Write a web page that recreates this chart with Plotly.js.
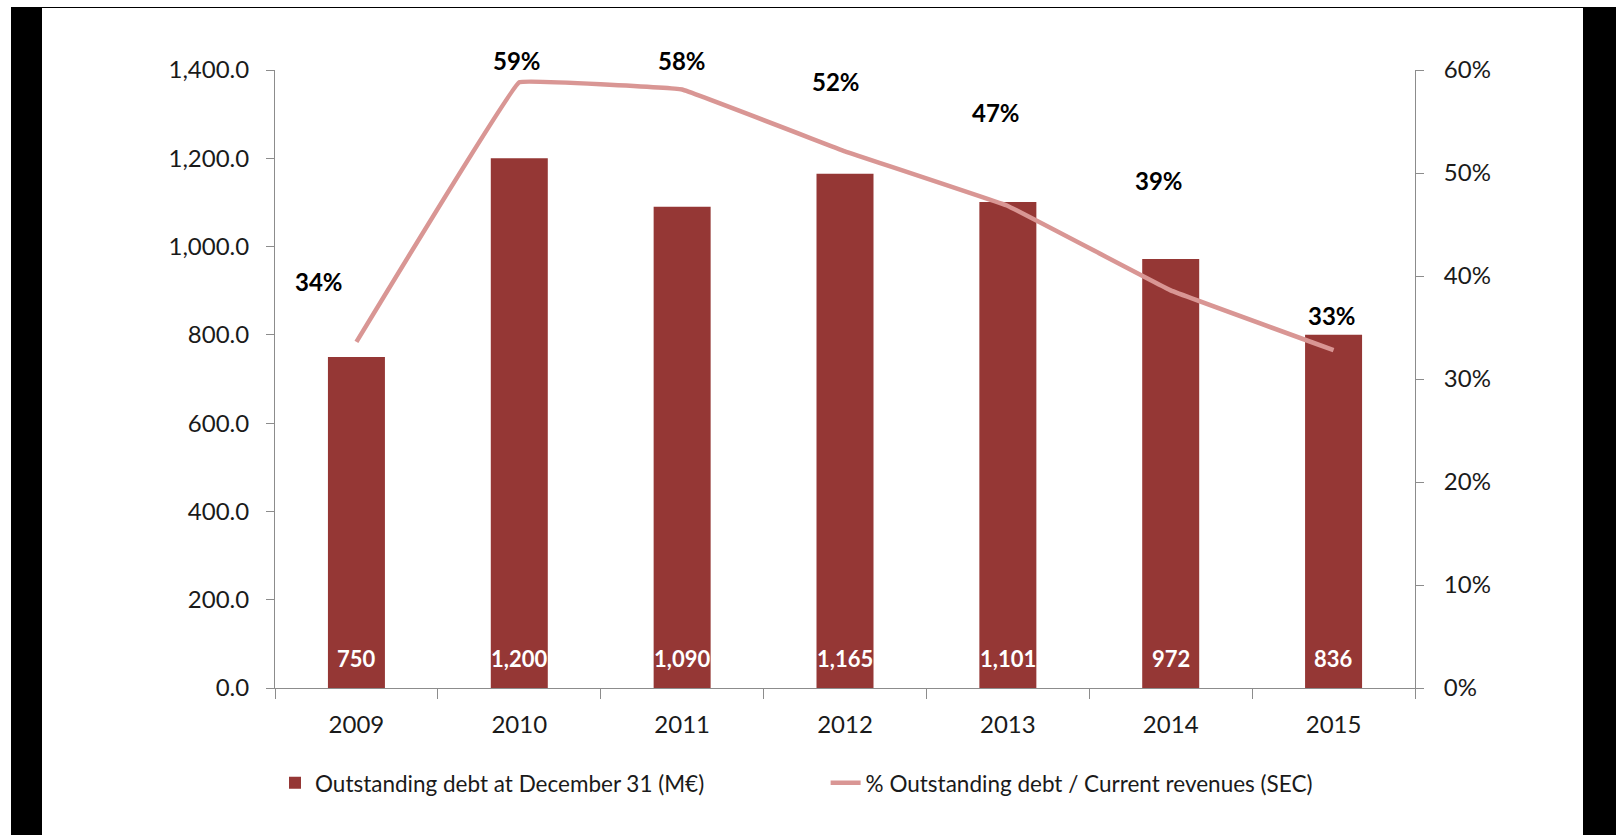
<!DOCTYPE html>
<html>
<head>
<meta charset="utf-8">
<script src="https://cdn.plot.ly/plotly-3.0.1.min.js"></script>
<style>
  html, body { margin: 0; padding: 0; background: #fff; }
  #wrap { position: relative; width: 1616px; height: 835px; overflow: hidden; }
  #chart { position: absolute; left: 0; top: 0; width: 1616px; height: 835px; }
  .frame { position: absolute; background: #000; pointer-events: none; }
</style>
</head>
<body>
<div id="wrap">
  <div id="chart"></div>
  <div class="frame" style="left:11px; top:7px; width:1605px; height:1px;"></div>
  <div class="frame" style="left:11px; top:7px; width:31px; height:828px;"></div>
  <div class="frame" style="left:1583px; top:7px; width:33px; height:828px;"></div>
</div>
<script>
// ---- data ----
const years = ["2009", "2010", "2011", "2012", "2013", "2014", "2015"];
const debtValues = [750, 1200, 1090, 1165, 1101, 972, 800];
const debtLabels = ["750", "1,200", "1,090", "1,165", "1,101", "972", "836"];
const ratioValues = [0.336, 0.588, 0.581, 0.521, 0.468, 0.386, 0.328];
const ratioLabels = ["34%", "59%", "58%", "52%", "47%", "39%", "33%"];
const barName = "Outstanding debt at December 31 (M€)";
const lineName = "% Outstanding debt / Current revenues (SEC)";

// ---- styling ----
const FONT = "Lato, 'Open Sans', sans-serif";
const barColor = "#953735";
const lineColor = "#D99694";
const axisColor = "#8c8c8c";
const textColor = "#1a1a1a";
// label nudges (pixels) for the percentage labels, in reading order
const pctNudge = [[-37, 60], [-2, 22], [0, 29], [-9, 70], [-12, 93], [-12, 110], [-2, 35]];

const traces = [
  {
    type: "bar",
    x: years,
    y: debtValues,
    name: barName,
    marker: { color: barColor },
    yaxis: "y",
    legend: "legend",
    hoverinfo: "skip"
  },
  {
    type: "scatter",
    mode: "lines",
    x: years,
    y: ratioValues,
    name: lineName,
    yaxis: "y2",
    line: { color: lineColor, width: 4.5, shape: "spline", smoothing: 0.12 },
    legend: "legend2",
    hoverinfo: "skip"
  }
];

// annotations reference categories by their index on the category axis
const annotations = [];
years.forEach((yr, i) => {
  annotations.push({
    x: i, y: 0, xref: "x", yref: "y",
    text: "<b>" + debtLabels[i] + "</b>", showarrow: false,
    yshift: 30, yanchor: "middle",
    font: { family: FONT, size: 22, color: "#ffffff" }
  });
  annotations.push({
    x: i, y: ratioValues[i], xref: "x", yref: "y2",
    text: "<b>" + ratioLabels[i] + "</b>", showarrow: false,
    xshift: pctNudge[i][0], yshift: pctNudge[i][1], yanchor: "middle",
    font: { family: FONT, size: 24, color: "#000000" }
  });
});

const layout = {
  width: 1616,
  height: 835,
  paper_bgcolor: "#ffffff",
  plot_bgcolor: "#ffffff",
  margin: { l: 275, r: 201, t: 70, b: 147, pad: 0 },
  font: { family: FONT, size: 24, color: textColor },
  bargap: 0.65,
  showlegend: true,
  xaxis: {
    type: "category",
    categoryorder: "array", categoryarray: years,
    range: [-0.5, years.length - 0.5], autorange: false,
    showline: true, linecolor: axisColor, linewidth: 1,
    ticks: "outside", tickson: "boundaries", ticklen: 10, tickcolor: axisColor,
    showgrid: false, zeroline: false, tickangle: 0,
    tickfont: { family: FONT, size: 24, color: textColor },
    ticklabelstandoff: 15
  },
  yaxis: {
    range: [0, 1400], autorange: false, dtick: 200, tick0: 0,
    tickformat: ",.1f",
    showline: true, linecolor: axisColor, linewidth: 1,
    ticks: "outside", ticklen: 8, tickcolor: axisColor,
    showgrid: false, zeroline: false,
    tickfont: { family: FONT, size: 24, color: textColor },
    ticklabelstandoff: 12
  },
  yaxis2: {
    overlaying: "y", side: "right",
    range: [0, 0.6], autorange: false, dtick: 0.1, tick0: 0,
    tickformat: ".0%",
    showline: true, linecolor: axisColor, linewidth: 1,
    ticks: "outside", ticklen: 8, tickcolor: axisColor,
    showgrid: false, zeroline: false,
    tickfont: { family: FONT, size: 24, color: textColor },
    ticklabelstandoff: 15
  },
  legend: {
    x: 0.0, y: -0.154, xanchor: "left", yanchor: "middle",
    orientation: "h", bgcolor: "rgba(0,0,0,0)",
    font: { family: FONT, size: 22.5, color: textColor }
  },
  legend2: {
    x: 0.483, y: -0.154, xanchor: "left", yanchor: "middle",
    orientation: "h", bgcolor: "rgba(0,0,0,0)",
    font: { family: FONT, size: 22.5, color: textColor }
  },
  annotations: annotations
};

Plotly.newPlot("chart", traces, layout, { staticPlot: true, displayModeBar: false });
</script>
</body>
</html>
